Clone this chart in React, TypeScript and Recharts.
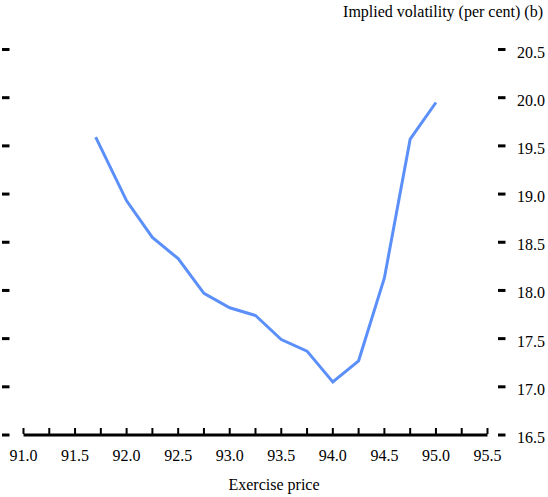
import React from 'react';
import { LineChart, Line, XAxis, YAxis } from 'recharts';

const exercisePrices = [91.7, 92.0, 92.25, 92.5, 92.75, 93.0, 93.25, 93.5, 93.75, 94.0, 94.25, 94.5, 94.75, 95.0];
const impliedVol = [19.59, 18.93, 18.55, 18.33, 17.97, 17.82, 17.74, 17.49, 17.37, 17.05, 17.27, 18.13, 19.57, 19.95];
const xTicks = [91.0, 91.25, 91.5, 91.75, 92.0, 92.25, 92.5, 92.75, 93.0, 93.25, 93.5, 93.75, 94.0, 94.25, 94.5, 94.75, 95.0, 95.25, 95.5];
const yTicks = [16.5, 17.0, 17.5, 18.0, 18.5, 19.0, 19.5, 20.0, 20.5];
const yTitle = 'Implied volatility (per cent) (b)';
const xTitle = 'Exercise price';

const data = exercisePrices.map((p, i) => ({ price: p, vol: impliedVol[i] }));

const FONT = 'Liberation Serif, Tinos, DejaVu Serif, serif';

const XTick = (props: any) => {
  const { x, y, payload } = props;
  const v = Number(payload.value);
  const major = Math.abs(v * 2 - Math.round(v * 2)) < 1e-6;
  return (
    <g>
      <line x1={x} x2={x} y1={y - 7} y2={y - 1} stroke="#000" strokeWidth={2} />
      {major && (
        <text x={x} y={y} dy={26} textAnchor="middle" style={{ fontFamily: FONT }} fontSize={16} fill="#000">
          {v.toFixed(1)}
        </text>
      )}
    </g>
  );
};

const LeftTick = (props: any) => {
  const { y } = props;
  return <line x1={2} x2={9.5} y1={y} y2={y} stroke="#000" strokeWidth={3} />;
};

const RightTick = (props: any) => {
  const { x, y, payload } = props;
  const v = Number(payload.value);
  return (
    <g>
      <line x1={x + 10.5} x2={x + 18} y1={y} y2={y} stroke="#000" strokeWidth={3} />
      <text x={x + 29.5} y={y} dy={8} textAnchor="start" style={{ fontFamily: FONT }} fontSize={16} fill="#000">
        {v.toFixed(1)}
      </text>
    </g>
  );
};

export default function App() {
  return (
    <div style={{ position: 'absolute', left: 0, top: 0, width: 548, height: 497, background: '#fff' }}>
      <div
        style={{
          position: 'absolute',
          right: 5,
          top: 3.5,
          fontFamily: FONT,
          fontSize: 16,
          lineHeight: '16px',
          color: '#000',
          whiteSpace: 'nowrap',
        }}
      >
        {yTitle}
      </div>
      <div
        style={{
          position: 'absolute',
          left: 0,
          width: 548,
          top: 477,
          textAlign: 'center',
          fontFamily: FONT,
          fontSize: 16,
          lineHeight: '16px',
          color: '#000',
        }}
      >
        {xTitle}
      </div>
      <LineChart
        width={548}
        height={497}
        data={data}
        margin={{ top: 49.5, right: 0, bottom: 0, left: 0 }}
        style={{ position: 'absolute', left: 0, top: 0 }}
      >
        <XAxis
          dataKey="price"
          type="number"
          domain={[91.0, 95.5]}
          ticks={xTicks}
          interval={0}
          height={62}
          tickLine={false}
          tickSize={0}
          tickMargin={0}
          axisLine={{ stroke: '#000', strokeWidth: 3 }}
          tick={<XTick />}
          allowDataOverflow
        />
        <YAxis
          yAxisId="left"
          orientation="left"
          type="number"
          domain={[16.5, 20.5]}
          ticks={yTicks}
          interval={0}
          width={23.5}
          axisLine={false}
          tickLine={false}
          tickSize={0}
          tickMargin={0}
          tick={<LeftTick />}
          allowDataOverflow
        />
        <YAxis
          yAxisId="right"
          orientation="right"
          type="number"
          domain={[16.5, 20.5]}
          ticks={yTicks}
          interval={0}
          width={60.5}
          axisLine={false}
          tickLine={false}
          tickSize={0}
          tickMargin={0}
          tick={<RightTick />}
          allowDataOverflow
        />
        <Line
          yAxisId="right"
          type="linear"
          dataKey="vol"
          stroke="#5B8FF9"
          strokeWidth={3}
          dot={false}
          activeDot={false}
          isAnimationActive={false}
        />
      </LineChart>
    </div>
  );
}
